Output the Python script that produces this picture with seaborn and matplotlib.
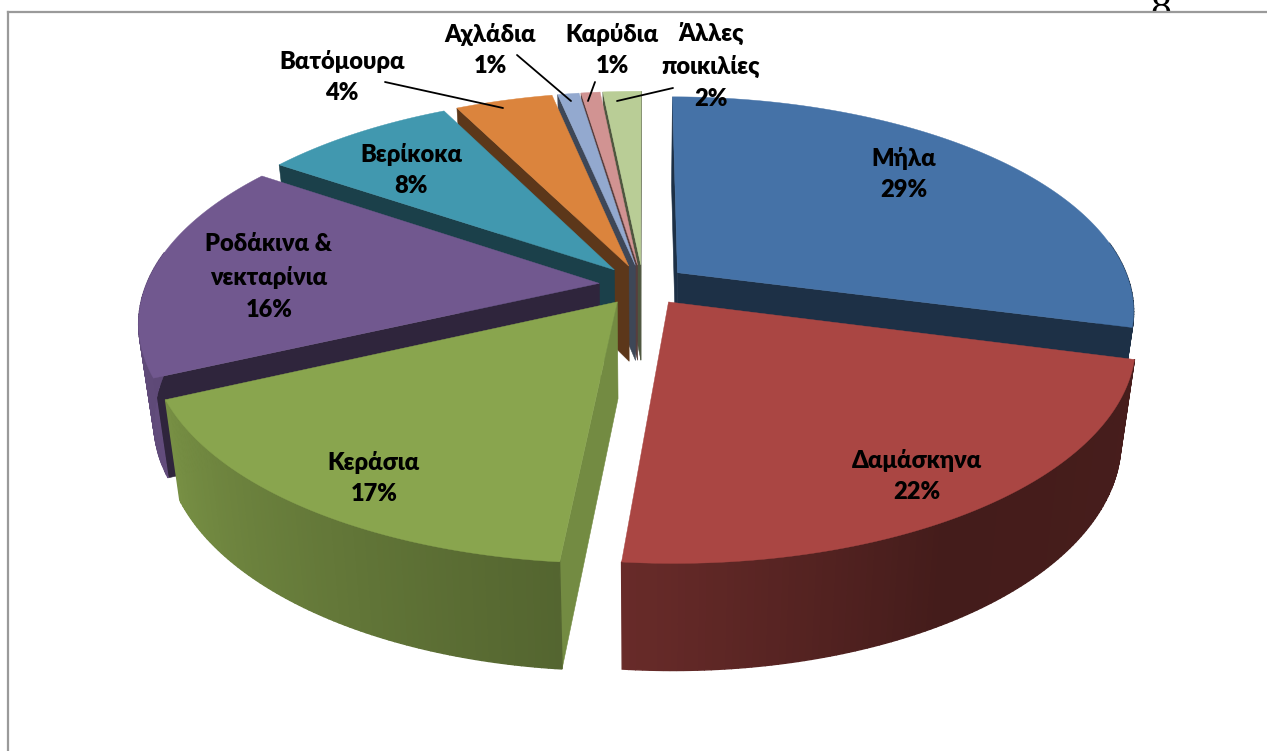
import numpy as np
import pandas as pd
import seaborn as sns
import matplotlib.pyplot as plt

# Share of each crop
crops = ['Μήλα', 'Δαμάσκηνα', 'Κεράσια', 'Ροδάκινα &\nνεκταρίνια', 'Βερίκοκα',
         'Βατόμουρα', 'Αχλάδια', 'Καρύδια', 'Άλλες\nποικιλίες']
shares = [29.1, 22.4, 16.6, 16.4, 8.1, 4.1, 0.9, 0.8, 1.6]
colors = ['#4572A7', '#AA4643', '#89A54E', '#71588F', '#4198AF',
          '#DB843D', '#93A9CF', '#D19392', '#B9CD96']

# where the labels sit, in picture pixels
label_x = [904, 917, 374, 269, 411, 342, 490, 612, 711]
label_y = [174, 476, 478, 277, 170, 77, 50, 50, 66]
# leader lines for the small slices
leaders = {5: ((385, 82), (503, 108)), 6: ((517, 55), (571, 101)),
           7: ((595, 82), (588, 101)), 8: ((673, 88), (617, 101))}

# back to front, so nearer slices cover the cut faces of those behind
draw_order = [0, 8, 7, 6, 5, 4, 3, 2, 1]

# projection of the tilted disc
cx, cy = 643, 285
rx, ry = 453, 210
persp = 0.172
explode = 0.097
depth = 96
bottom_sx, bottom_sy = 0.97, 1.04

sns.set_theme(style='white')
plt.rcParams['font.family'] = ['Lato', 'Open Sans', 'DejaVu Sans']

df = pd.DataFrame({'crop': crops, 'share': shares, 'color': colors})
df['stop'] = df['share'].cumsum() / df['share'].sum() * 360
df['start'] = df['stop'] - df['share'] / df['share'].sum() * 360
df['mid'] = (df['start'] + df['stop']) / 2


def project(x, y, bottom=False):
    w = 1 / (1 - persp * y)
    if bottom:
        return cx + rx * x * w * bottom_sx, cy + depth + ry * y * w * bottom_sy
    return cx + rx * x * w, cy + ry * y * w


def shade(color, f):
    return tuple(np.array(plt.matplotlib.colors.to_rgb(color)) * f)


def rim_light(t):
    return np.interp(t, [100, 150, 183, 245, 275, 360], [.42, .40, .6, .87, .82, .8])


def signed_area(pts):
    a = np.array(pts)
    b = np.roll(a, -1, axis=0)
    return np.sum(a[:, 0] * b[:, 1] - b[:, 0] * a[:, 1])


fig = plt.figure(figsize=(12.67, 7.51), dpi=100)
fig.patch.set_facecolor('white')
# page number of the document, mostly hidden by the chart area
fig.text(1161 / 1267, 1 - 20 / 751, '8', fontsize=30, family='Liberation Serif',
         ha='center', va='baseline', color='black', zorder=-1)

ax = fig.add_axes([8 / 1267, 0, 1259 / 1267, 739 / 751])
ax.set_xlim(8, 1267)
ax.set_ylim(751, 12)
ax.set_facecolor('white')
ax.set_xticks([])
ax.set_yticks([])
for side in ['right', 'bottom']:
    ax.spines[side].set_visible(False)
for side in ['left', 'top']:
    ax.spines[side].set_color('#9a9a9a')
    ax.spines[side].set_linewidth(1.6)

for i in draw_order:
    row = df.iloc[i]
    ox = np.sin(np.radians(row['mid'])) * explode
    oy = -np.cos(np.radians(row['mid'])) * explode
    t = np.linspace(row['start'], row['stop'], max(int(row['share'] * 5), 4))
    xs = ox + np.sin(np.radians(t))
    ys = oy - np.cos(np.radians(t))

    # the two cut faces, only when they face the viewer
    for k, sign in [(0, -1), (-1, 1)]:
        pts = [project(ox, oy), project(xs[k], ys[k]),
               project(xs[k], ys[k], True), project(ox, oy, True)]
        if signed_area(pts) * sign <= 0:
            continue
        f = .84 if row['start'] > 170 and row['start'] < 190 else .42
        ax.fill(*zip(*pts), color=shade(row['color'], f), lw=.4, zorder=2)

    # outer wall, shaded along the rim, back part left out
    for j in range(len(t) - 1):
        mid_t = (t[j] + t[j + 1]) / 2
        if -np.cos(np.radians(mid_t)) < -0.15:
            continue
        pts = [project(xs[j], ys[j]), project(xs[j + 1], ys[j + 1]),
               project(xs[j + 1], ys[j + 1], True), project(xs[j], ys[j], True)]
        ax.fill(*zip(*pts), color=shade(row['color'], rim_light(mid_t)), lw=1, zorder=2)

    # top face
    top = [project(ox, oy)] + [project(a, b) for a, b in zip(xs, ys)]
    ax.fill(*zip(*top), color=row['color'], lw=.3, zorder=2)

for i, (start, stop) in leaders.items():
    ax.plot([start[0], stop[0]], [start[1], stop[1]], color='black', lw=1.3, zorder=3)

for i, row in df.iterrows():
    ax.text(label_x[i], label_y[i], f"{row['crop']}\n{row['share']:.0f}%", ha='center', va='center',
            fontsize=17, fontweight='heavy', color='black', linespacing=1.55, zorder=4)

fig.savefig('out.png', dpi=100)
